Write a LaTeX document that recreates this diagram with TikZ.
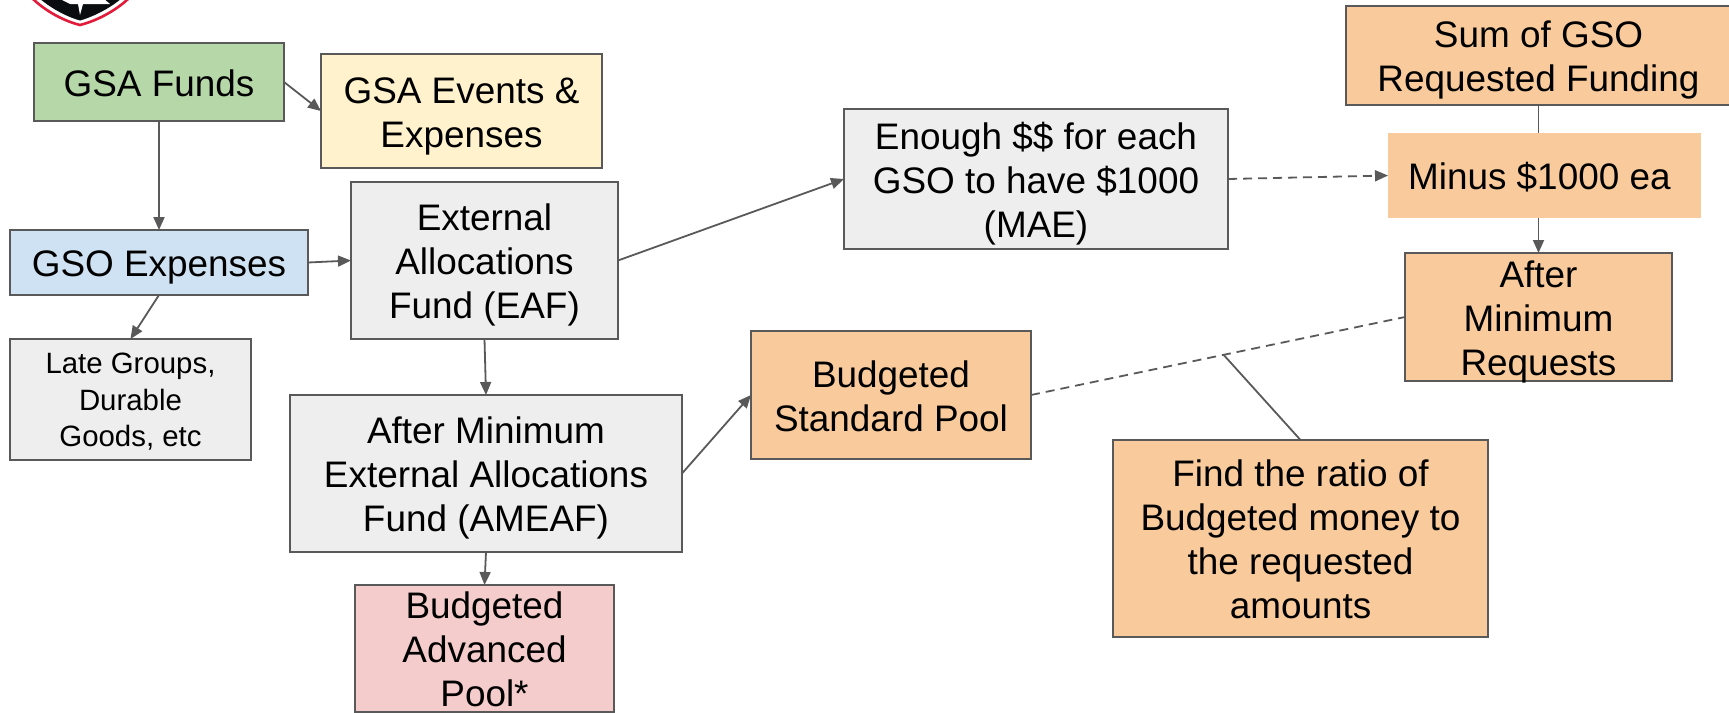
\documentclass[tikz,border=0pt]{standalone}
\usepackage{fontspec}
\setmainfont{Liberation Sans}
\usetikzlibrary{arrows.meta}
\definecolor{edgegray}{HTML}{595959}
\definecolor{fgreen}{HTML}{B6D7A8}
\definecolor{fyellow}{HTML}{FFF2CC}
\definecolor{fgray}{HTML}{EEEEEE}
\definecolor{fblue}{HTML}{CFE2F3}
\definecolor{fpink}{HTML}{F4CCCC}
\definecolor{forange}{HTML}{F9CB9C}
\definecolor{logored}{HTML}{E31B3A}
\definecolor{logoblack}{HTML}{0A0D10}
\newcommand\st{\rule[-3.85pt]{0pt}{22pt}}
\newcommand\brk{\\\st}
\newcommand\sst{\rule[-3.85pt]{0pt}{18.3pt}}
\newcommand\sbrk{\\\sst}
\tikzset{
  wh/.style 2 args={minimum width=#1*0.5pt, minimum height=#2*0.5pt},
  box/.style={rectangle, draw=edgegray, line width=0.85pt, inner xsep=0pt, inner ysep=-8pt, outer sep=0pt,
    align=center, text=black, font=\fontsize{18.45}{22}\selectfont},
  smallbox/.style={box, font=\fontsize{14.7}{18.3}\selectfont},
  flat/.style={box, draw=none},
  conn/.style={draw=edgegray, line width=0.9pt},
  arr/.style={conn, -{Triangle[length=6.5pt,width=5.5pt]}},
  darr/.style={arr, dash pattern=on 4.5pt off 3pt},
  dline/.style={conn, dash pattern=on 4.5pt off 3pt}
}
\begin{document}
\begin{tikzpicture}[x=0.5pt,y=-0.5pt]
\useasboundingbox (0,0) rectangle (1729,712);
\clip (0,0) rectangle (1729,712);
% logo remnant
\draw[logored, line width=1.3pt] (32,-2) .. controls (42,8) and (60,20) .. (80,25) .. controls (100,20) and (119,8) .. (129,-2);
\fill[logoblack] (39,-2) .. controls (48,6) and (64,16) .. (80,20.5) .. controls (96,16) and (113,6) .. (122,-2) -- cycle;
\fill[white] (60,-1) -- (70,4) -- (78,4) -- (80,15) -- (83,4) -- (110,4) -- (104,-1) -- cycle;
% nodes
\node[box, fill=fgreen, wh={250}{78}] (funds) at (159,82) {\st GSA Funds};
\node[box, fill=fyellow, wh={281}{114}] (events) at (461.5,111) {\st GSA Events \&\brk Expenses};
\node[box, fill=fblue, wh={298}{65}] (gso) at (159,262.5) {\st GSO Expenses};
\node[box, fill=fgray, wh={267}{157}] (eaf) at (484.5,260.5) {\st External\brk Allocations\brk Fund (EAF)};
\node[smallbox, fill=fgray, wh={241}{121}] (late) at (130.5,399.5) {\sst Late Groups,\sbrk Durable\sbrk Goods, etc};
\node[box, fill=fgray, wh={392}{157}] (ameaf) at (486,473.5) {\st After Minimum\brk External Allocations\brk Fund (AMEAF)};
\node[box, fill=fpink, wh={259}{127}] (adv) at (484.5,648.5) {\st Budgeted\brk Advanced\brk Pool*};
\node[box, fill=forange, wh={280}{128}] (std) at (891,395) {\st Budgeted\brk Standard Pool};
\node[box, fill=fgray, wh={384}{140}] (mae) at (1036,179) {\st Enough \$\$ for each\brk GSO to have \$1000\brk (MAE)};
\node[box, fill=forange, wh={385}{99}] (sum) at (1538.5,55.5) {\st Sum of GSO\brk Requested Funding};
\node[box, fill=forange, wh={267}{128}] (after) at (1538.5,317) {\st After\brk Minimum\brk Requests};
\node[box, fill=forange, wh={375}{197}] (ratio) at (1300.5,538.5) {\st Find the ratio of\brk Budgeted money to\brk the requested\brk amounts};
% connector passing behind the Minus box
\draw[arr] (sum.south) -- (after.north);
\node[flat, fill=forange, wh={313}{85}] (minus) at (1544.5,175.5) {\st Minus \$1000 ea\hspace*{0.278em}};
% connectors
\draw[arr] (funds.east) -- (events.west);
\draw[arr] (funds.south) -- (gso.north);
\draw[arr] (gso.east) -- (eaf.west);
\draw[arr] (gso.south) -- (late.north);
\draw[arr] (eaf.east) -- (mae.west);
\draw[arr] (eaf.south) -- (ameaf.north);
\draw[arr] (ameaf.east) -- (std.west);
\draw[arr] (ameaf.south) -- (adv.north);
\draw[darr] (mae.east) -- (minus.west);
\draw[dline] (std.east) -- coordinate[pos=0.515] (junction) (after.west);
\draw[conn] (ratio.north) -- (junction);
\end{tikzpicture}
\end{document}
